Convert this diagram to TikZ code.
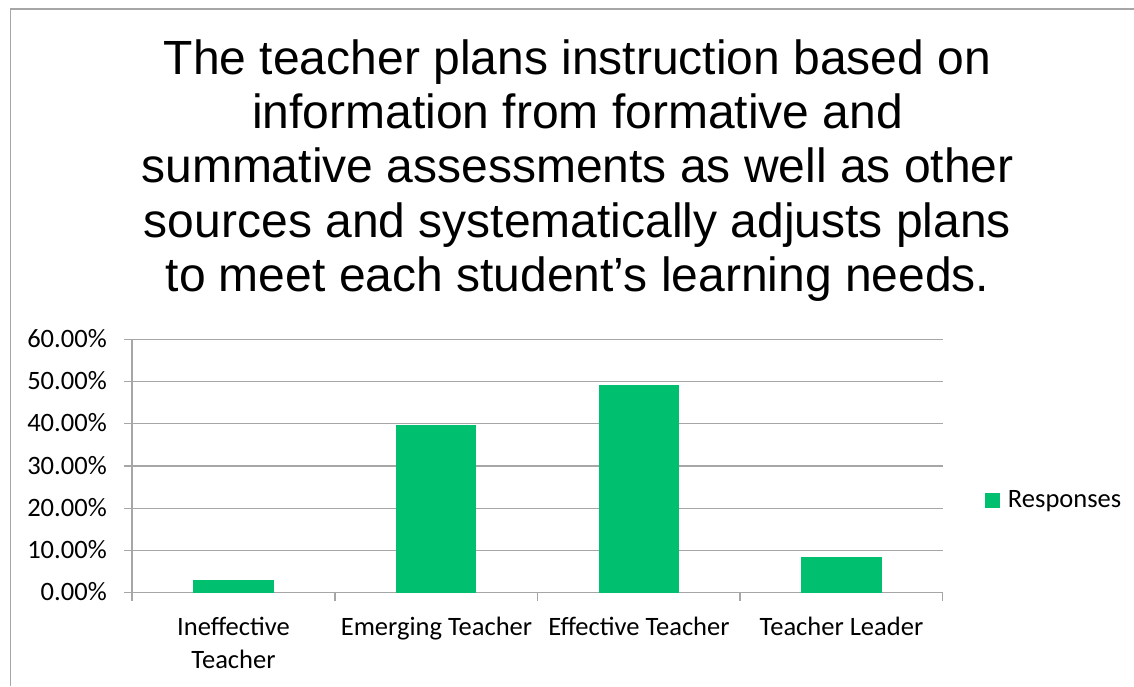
\documentclass[tikz,border=0pt]{standalone}
\usepackage{fontspec}
\setmainfont{Carlito}
\newfontfamily\titlefont{Liberation Sans}
\definecolor{bargreen}{RGB}{0,191,111}
\definecolor{gridgray}{RGB}{166,166,166}
\tikzset{
  grid line/.style={draw=gridgray, line width=0.95pt},
  frame line/.style={draw=gridgray, line width=1.4pt},
  bar/.style={fill=bargreen},
  title line/.style={font=\titlefont\fontsize{36}{40}\selectfont, anchor=base, inner sep=0pt},
  axis label/.style={font=\fontsize{19.9}{24}\selectfont, anchor=base east, inner sep=0pt},
  cat label/.style={font=\fontsize{19.9}{24}\selectfont, anchor=base, inner sep=0pt},
  legend label/.style={font=\fontsize{19.9}{24}\selectfont, anchor=base west, inner sep=0pt},
}
\begin{document}
\begin{tikzpicture}[x=0.75pt,y=-0.75pt]
\useasboundingbox (0,0) rectangle (1134,686);
% frame
\draw[frame line] (10.5,686) -- (10.5,9) -- (1134,9);
% title
\node[title line] (t1) at (577.5,74.0) {The teacher plans instruction based on};
\node[title line] (t2) at (577.5,128.4) {information from formative and};
\node[title line] (t3) at (577.5,182.8) {summative assessments as well as other};
\node[title line] (t4) at (577.5,237.1) {sources and systematically adjusts plans};
\node[title line] (t5) at (577.5,291.5) {to meet each student’s learning needs.};
% gridlines and y labels
\foreach \v/\lab [count=\i] in {0/0.00\%,10/10.00\%,20/20.00\%,30/30.00\%,40/40.00\%,50/50.00\%,60/60.00\%}{
  \pgfmathsetmacro{\yy}{592.7-4.223*\v}
  \draw[grid line] (124,\yy) -- (942.7,\yy);
  \node[axis label] (y\i) at (107,\yy+8.2) {\lab};
}
% y axis
\draw[grid line] (132,339.3) -- (132,600.7);
% x ticks
\foreach \x in {335,537.7,740,942.7}{
  \draw[grid line] (\x,592.7) -- (\x,600.7);
}
% bars
\fill[bar] (193.3,592.7) rectangle (273.7,580.3);
\fill[bar] (396.0,592.7) rectangle (476.4,425.0);
\fill[bar] (598.7,592.7) rectangle (679.1,385.3);
\fill[bar] (801.4,592.7) rectangle (881.8,557.3);
% category labels
\node[cat label] (c1a) at (233.5,635) {Ineffective};
\node[cat label] (c1b) at (233.5,668.3) {Teacher};
\node[cat label] (c2) at (436.5,635) {Emerging Teacher};
\node[cat label] (c3) at (639,635) {Effective Teacher};
\node[cat label] (c4) at (841.5,635) {Teacher Leader};
% legend
\fill[bar] (985,492.7) rectangle (1000,507.7);
\node[legend label] (leg) at (1007.7,507.3) {Responses};
\end{tikzpicture}
\end{document}
